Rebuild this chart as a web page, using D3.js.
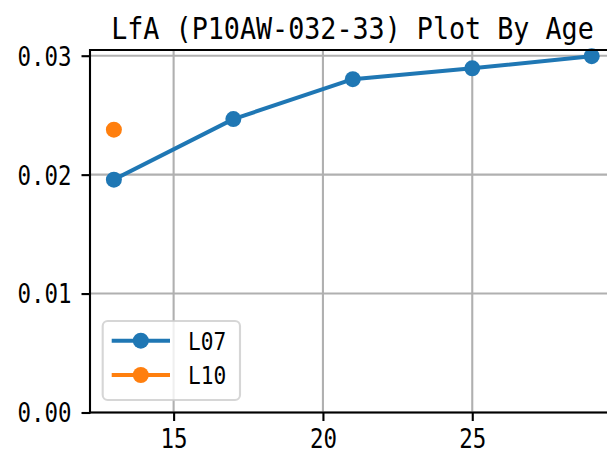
<!DOCTYPE html>
<html>
<head>
<meta charset="utf-8">
<script src="https://cdn.jsdelivr.net/npm/d3@7"></script>
<style>
    html, body { margin: 0; padding: 0; background: #fff; }
    svg { display: block; }
</style>
</head>
<body>
<svg id="chart" width="607" height="456"></svg>
<script>
// Data
var ages = [13, 17, 21, 25, 29];
var l07 = [0.01958, 0.02467, 0.02803, 0.02894, 0.02996];
var l10Ages = [13];
var l10 = [0.02378];
var seriesNames = ['L07', 'L10'];
var xTicks = [15, 20, 25];
var yTicks = [0, 0.01, 0.02, 0.03];
var title = 'LfA (P10AW-032-33) Plot By Age';

var blue = '#1f77b4',
    orange = '#ff7f0e';

// Axes box (the right edge falls just outside the picture)
// note: don't call these top/left etc, window.top is read-only
var axL = 90, axR = 615.6, axT = 50, axB = 412.5;

var x = d3.scaleLinear().domain([12.2, 29.8]).range([axL, axR]);
var y = d3.scaleLinear().domain([0, 0.03048]).range([axB, axT]);

var svg = d3.select('#chart');

// Monospace text squeezed to half-em cells, like the CJK font in the original
function mono(sel, size) {
    sel.style('font-family', '"DejaVu Sans Mono", monospace')
        .style('font-size', size + 'px')
        .attr('fill', '#000')
        .attr('lengthAdjust', 'spacingAndGlyphs')
        .attr('textLength', function() { return this.textContent.length * size * 0.52; });
}

// Grid first, so everything else sits on top
var grid = svg.append('g');
grid.selectAll('.gx').data(xTicks).enter().append('line')
    .attr('x1', function(d) { return x(d); })
    .attr('x2', function(d) { return x(d); })
    .attr('y1', axT).attr('y2', axB)
    .attr('stroke', '#b0b0b0').attr('stroke-width', 2.1);
grid.selectAll('.gy').data(yTicks).enter().append('line')
    .attr('x1', axL).attr('x2', axR)
    .attr('y1', function(d) { return y(d); })
    .attr('y2', function(d) { return y(d); })
    .attr('stroke', '#b0b0b0').attr('stroke-width', 2.1);

// Series
var pts07 = ages.map(function(a, i) { return [a, l07[i]]; });
var pts10 = l10Ages.map(function(a, i) { return [a, l10[i]]; });

var line = d3.line()
    .x(function(d) { return x(d[0]); })
    .y(function(d) { return y(d[1]); });

svg.append('path').datum(pts07)
    .attr('d', line)
    .attr('fill', 'none')
    .attr('stroke', blue)
    .attr('stroke-width', 4)
    .attr('stroke-linejoin', 'round')
    .attr('stroke-linecap', 'square');
svg.append('g').selectAll('circle').data(pts07).enter().append('circle')
    .attr('cx', function(d) { return x(d[0]); })
    .attr('cy', function(d) { return y(d[1]); })
    .attr('r', 8)
    .attr('fill', blue);

svg.append('g').selectAll('circle').data(pts10).enter().append('circle')
    .attr('cx', function(d) { return x(d[0]); })
    .attr('cy', function(d) { return y(d[1]); })
    .attr('r', 8)
    .attr('fill', orange);

// Axes
var xAxis = svg.append('g')
    .attr('transform', 'translate(0,' + axB + ')')
    .call(d3.axisBottom(x).tickValues(xTicks).tickSize(8.5).tickPadding(9));
var yAxis = svg.append('g')
    .attr('transform', 'translate(' + axL + ',0)')
    .call(d3.axisLeft(y).tickValues(yTicks).tickFormat(d3.format('.2f')).tickSize(8.5).tickPadding(10));

[xAxis, yAxis].forEach(function(ax) {
    ax.select('.domain').remove();
    ax.selectAll('.tick line').attr('stroke', '#000').attr('stroke-width', 2.1);
    ax.selectAll('.tick text').call(mono, 26);
});
xAxis.selectAll('.tick text').attr('dy', 18);
yAxis.selectAll('.tick text').attr('dy', 9.4);

// Spines: left, bottom and top (right one is cut off)
svg.append('line').attr('x1', axL).attr('x2', axL).attr('y1', axT - 1).attr('y2', axB + 1)
    .attr('stroke', '#000').attr('stroke-width', 2.1);
svg.append('line').attr('x1', axL - 1).attr('x2', axR).attr('y1', axB).attr('y2', axB)
    .attr('stroke', '#000').attr('stroke-width', 2.1);
svg.append('line').attr('x1', axL - 1).attr('x2', axR).attr('y1', axT).attr('y2', axT)
    .attr('stroke', '#000').attr('stroke-width', 2.1);

// Title - squeezed with a transform so its box stays inside the picture
svg.append('g')
    .attr('transform', 'translate(' + 352.5 + ',39) scale(0.862,1)')
    .append('text')
    .attr('text-anchor', 'middle')
    .style('font-family', '"DejaVu Sans Mono", monospace')
    .style('font-size', '31px')
    .attr('fill', '#000')
    .text(title);

// Legend
var legend = svg.append('g');
legend.append('rect')
    .attr('x', 102.7).attr('y', 321)
    .attr('width', 137.3).attr('height', 79)
    .attr('rx', 5)
    .attr('fill', 'rgba(255,255,255,0.8)')
    .attr('stroke', 'rgba(204,204,204,0.8)')
    .attr('stroke-width', 2.1);

var rows = legend.selectAll('.row').data(seriesNames).enter().append('g')
    .attr('transform', function(d, i) { return 'translate(0,' + (340.7 + i * 34.3) + ')'; });
rows.append('line')
    .attr('x1', 111.7).attr('x2', 170)
    .attr('stroke', function(d, i) { return i ? orange : blue; })
    .attr('stroke-width', 4);
rows.append('circle')
    .attr('cx', 140.8).attr('r', 8)
    .attr('fill', function(d, i) { return i ? orange : blue; });
rows.append('text')
    .attr('x', 188)
    .attr('y', 8.8)
    .text(function(d) { return d; })
    .call(mono, 24.5);
</script>
</body>
</html>
